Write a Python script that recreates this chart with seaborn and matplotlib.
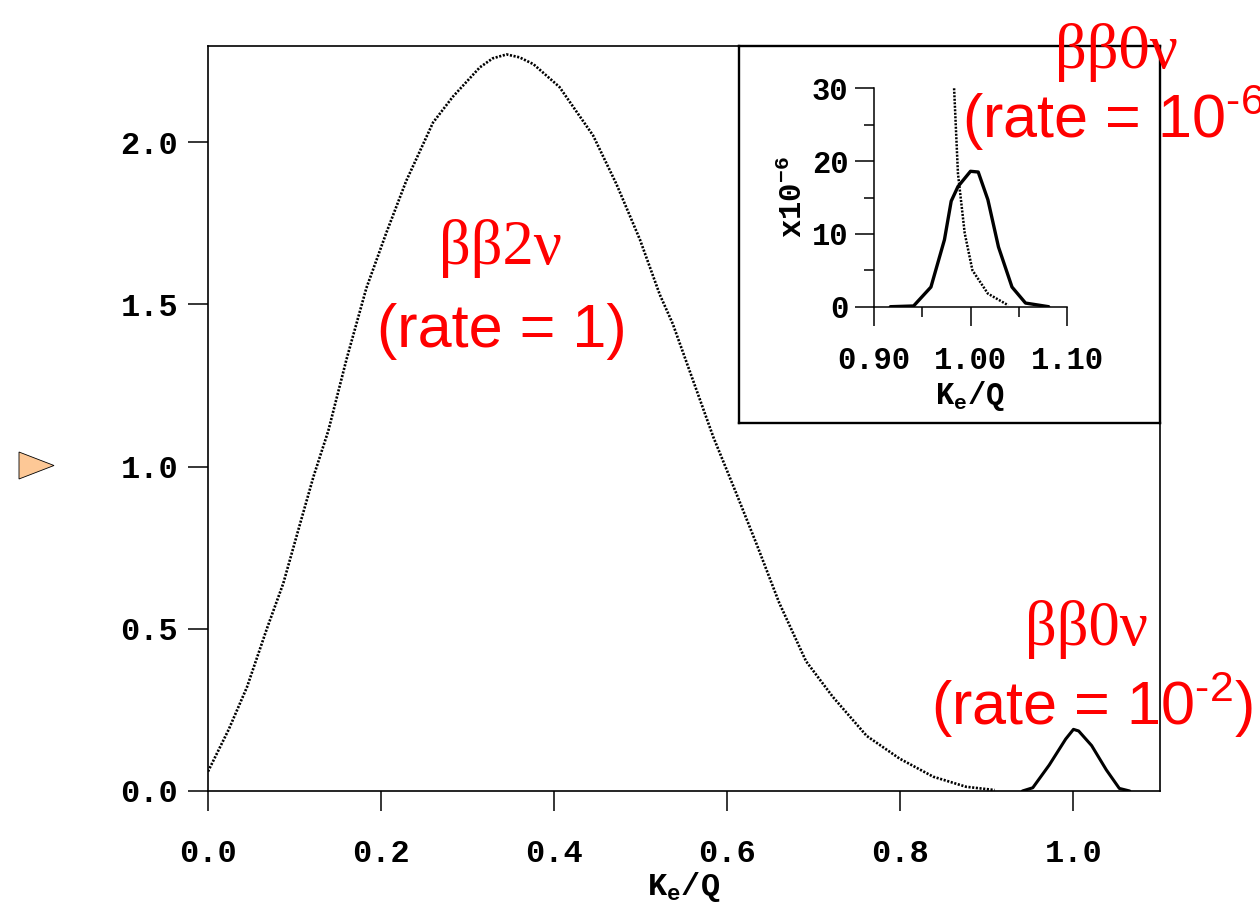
import matplotlib
matplotlib.use('Agg')
import matplotlib.pyplot as plt
import seaborn as sns

# 2nu double beta spectrum (main panel)
k2v_x = [0.0, 0.024, 0.045, 0.068, 0.087, 0.106, 0.122, 0.139, 0.160, 0.183, 0.206,
         0.229, 0.260, 0.283, 0.314, 0.329, 0.345, 0.360, 0.376, 0.406, 0.445, 0.472,
         0.499, 0.522, 0.537, 0.584, 0.610, 0.634, 0.660, 0.691, 0.722, 0.761,
         0.799, 0.838, 0.876, 0.909]
k2v_y = [0.06, 0.19, 0.32, 0.50, 0.64, 0.82, 0.97, 1.11, 1.33, 1.55, 1.72,
         1.88, 2.06, 2.14, 2.23, 2.258, 2.27, 2.261, 2.24, 2.17, 2.02, 1.87,
         1.70, 1.53, 1.44, 1.09, 0.92, 0.76, 0.58, 0.40, 0.29, 0.17,
         0.10, 0.044, 0.013, 0.003]

# 0nu peak (main panel)
k0v_x = [0.941, 0.953, 0.972, 0.991, 1.000, 1.006, 1.021, 1.038, 1.053, 1.065]
k0v_y = [0.0, 0.01, 0.08, 0.16, 0.19, 0.185, 0.14, 0.065, 0.008, 0.0]

# inset, units of 1e-6
ins0v_x = [0.917, 0.941, 0.959, 0.973, 0.980, 0.987, 1.000, 1.008, 1.018, 1.029, 1.043, 1.057, 1.081]
ins0v_y = [0.0, 0.1, 2.7, 9.2, 14.5, 16.5, 18.6, 18.5, 14.7, 8.2, 2.7, 0.5, 0.0]
ins2v_x = [0.983, 0.987, 0.994, 1.002, 1.018, 1.039]
ins2v_y = [30.0, 18.3, 10.1, 5.0, 1.8, 0.2]

main_xticks = [0.0, 0.2, 0.4, 0.6, 0.8, 1.0]
main_yticks = [0.0, 0.5, 1.0, 1.5, 2.0]
ins_xticks = [0.90, 1.00, 1.10]
ins_yticks = [0, 10, 20, 30]

sns.set_style('ticks')
plt.rcParams['font.family'] = ['Liberation Mono', 'DejaVu Sans Mono']
plt.rcParams['font.weight'] = 'bold'
for key in ['text.color', 'axes.labelcolor', 'xtick.color', 'ytick.color', 'axes.edgecolor']:
    plt.rcParams[key] = 'black'

W, H = 1260, 918
fig = plt.figure(figsize=(W / 100, H / 100), dpi=100)


def fx(px):
    return px / W


def fy(py):
    return 1 - py / H


# main axes
ax = fig.add_axes([fx(208), fy(791), fx(1160 - 208), (791 - 46) / H])
sns.lineplot(x=k2v_x, y=k2v_y, ax=ax, color='black', lw=1.9,
             linestyle=(0, (0.8, 0.6)), sort=False)
sns.lineplot(x=k0v_x, y=k0v_y, ax=ax, color='black', lw=2.2, sort=False)
ax.set_xlim(0, 1.1)
ax.set_ylim(0, 2.296)
ax.set_xticks(main_xticks)
ax.set_xticklabels(['%.1f' % v for v in main_xticks])
ax.set_yticks(main_yticks)
ax.set_yticklabels(['%.1f' % v for v in main_yticks])
ax.tick_params(axis='both', direction='out', length=14.5, width=1.1,
               labelsize=23, color='black', labelcolor='black')
ax.tick_params(axis='x', pad=20)
ax.tick_params(axis='y', pad=7)
for s in ax.spines.values():
    s.set_linewidth(1.2)
ax.set_xlabel('K$_\\mathregular{e}$/Q', fontsize=23, fontweight='bold', labelpad=1)

# inset frame
frame = fig.add_axes([fx(739), fy(423), fx(1160 - 739), (423 - 46) / H])
frame.set_xticks([])
frame.set_yticks([])
for s in frame.spines.values():
    s.set_linewidth(1.7)

# inset axes
ins = fig.add_axes([fx(874), fy(306.7), fx(1067 - 874), (306.7 - 88.3) / H])
ins.patch.set_alpha(0)
sns.lineplot(x=ins2v_x, y=ins2v_y, ax=ins, color='black', lw=1.8,
             linestyle=(0, (0.8, 0.6)), sort=False)
sns.lineplot(x=ins0v_x, y=ins0v_y, ax=ins, color='black', lw=2.4, sort=False)
ins.set_xlim(0.9, 1.1)
ins.set_ylim(0, 30)
ins.set_xticks(ins_xticks)
ins.set_xticklabels(['%.2f' % v for v in ins_xticks])
ins.set_xticks([0.95, 1.05], minor=True)
ins.set_yticks(ins_yticks)
ins.set_yticklabels([str(v) for v in ins_yticks])
ins.set_yticks([5, 15, 25], minor=True)
ins.tick_params(axis='both', which='major', direction='out', length=13.5,
                width=1.1, labelsize=22, labelcolor='black')
ins.tick_params(axis='both', which='minor', direction='out', length=7.5, width=1.1)
ins.tick_params(axis='x', which='major', pad=15)
ins.tick_params(axis='y', which='major', pad=5)
ins.spines['top'].set_visible(False)
ins.spines['right'].set_visible(False)
for side in ['left', 'bottom']:
    ins.spines[side].set_linewidth(1.1)
ins.set_xlabel('K$_\\mathregular{e}$/Q', fontsize=22, fontweight='bold', labelpad=2)
ins.set_ylabel('x10$^{\\mathregular{-6}}$', fontsize=22, fontweight='bold', labelpad=2)

# red annotations
red = '#ff0000'
serif = ['Liberation Serif', 'DejaVu Serif']
sans = ['Liberation Sans', 'DejaVu Sans']
hy = '\u2010'
txt = dict(color=red, fontweight='normal', zorder=10, va='baseline')
fig.text(fx(501), fy(264), 'ββ2ν', family=serif, fontsize=45, ha='center', **txt)
fig.text(fx(502), fy(347), '(rate = 1)', family=sans, fontsize=44, ha='center', **txt)
fig.text(fx(1025), fy(645), 'ββ0ν', family=serif, fontsize=45, ha='left', **txt)
fig.text(fx(931), fy(725), '(rate = 10$^{\\mathregular{%s2}}$)' % hy, family=sans,
         fontsize=44, ha='left', **txt)
fig.text(fx(1055), fy(68), 'ββ0ν', family=serif, fontsize=45, ha='left', **txt)
fig.text(fx(962), fy(138), '(rate = 10$^{\\mathregular{%s6}}$)' % hy, family=sans,
         fontsize=44, ha='left', **txt)

# bullet marker on the left
fig.add_artist(plt.Polygon([[fx(19), fy(452)], [fx(54), fy(465.5)], [fx(19), fy(479)]],
                           closed=True, facecolor='#fdc896', edgecolor='black',
                           lw=0.6, transform=fig.transFigure))

fig.savefig('out.png', dpi=100)
